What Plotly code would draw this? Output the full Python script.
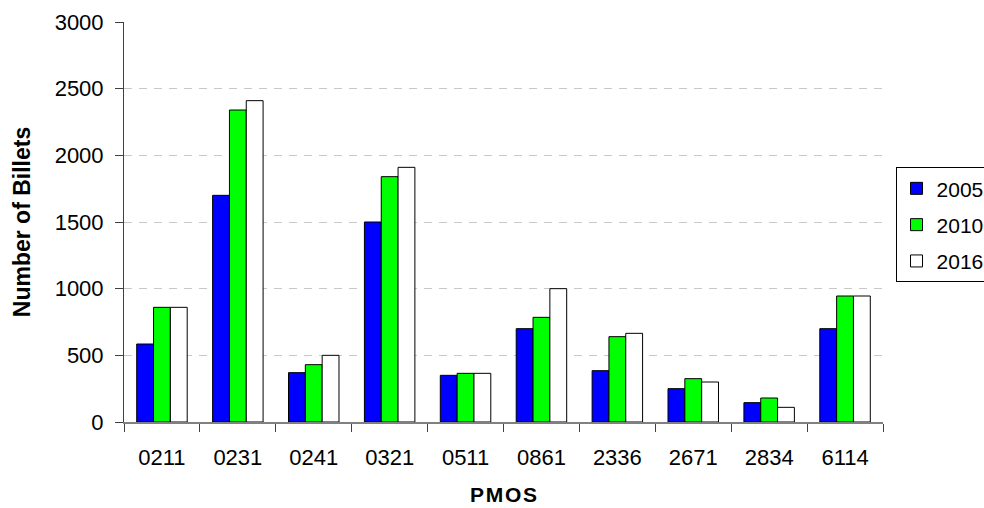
import plotly.graph_objects as go

# Billet counts by PMOS for three planning years
pmos = ["0211", "0231", "0241", "0321", "0511", "0861", "2336", "2671", "2834", "6114"]
billets_2005 = [585, 1700, 370, 1500, 350, 700, 385, 250, 145, 700]
billets_2010 = [860, 2340, 430, 1840, 365, 785, 640, 325, 180, 945]
billets_2016 = [860, 2410, 500, 1910, 365, 1000, 665, 300, 110, 945]

series = [
    ("2005", billets_2005, "#0000FF"),
    ("2010", billets_2010, "#00FF00"),
    ("2016", billets_2016, "#FFFFFF"),
]

FONT = "Liberation Sans, Arial, sans-serif"

fig = go.Figure()
for name, vals, color in series:
    fig.add_trace(go.Bar(
        x=pmos, y=vals, name=name, legendgroup=name,
        marker=dict(color=color, line=dict(color="#000000", width=1)),
    ))

fig.update_layout(
    width=984, height=508,
    margin=dict(l=124, r=101, t=22, b=86, autoexpand=False),
    paper_bgcolor="white", plot_bgcolor="white",
    barmode="group", bargap=0.335, bargroupgap=0,
    font=dict(family=FONT, size=22, color="#000000"),
    showlegend=True,
    legend=dict(
        x=1.0165, xanchor="left", y=0.637, yanchor="top",
        bordercolor="#000000", borderwidth=1, bgcolor="white",
        font=dict(family=FONT, size=21, color="#000000"),
        tracegroupgap=6, traceorder="grouped",
    ),
    xaxis=dict(
        type="category", tickson="boundaries",
        ticks="outside", ticklen=8, tickwidth=1, tickcolor="#404040",
        showline=True, linecolor="#808080", linewidth=1.5,
        showgrid=False, ticklabelstandoff=15,
        tickfont=dict(family=FONT, size=22),
        title=dict(text="P\u200aM\u200aO\u200aS", font=dict(family=FONT, size=21, weight="bold"), standoff=18),
    ),
    yaxis=dict(
        range=[0, 3000], tickvals=[0, 500, 1000, 1500, 2000, 2500, 3000],
        ticks="outside", ticklen=8, tickwidth=1, tickcolor="#404040",
        showline=True, linecolor="#404040", linewidth=1,
        showgrid=True, gridcolor="#C8C8C8", griddash="8px,7px", gridwidth=1,
        zeroline=False, ticklabelstandoff=7,
        tickfont=dict(family=FONT, size=22),
        title=dict(text="Number of Billets", font=dict(family=FONT, size=23, weight="bold"), standoff=17),
    ),
)

fig.write_html("out.html")
